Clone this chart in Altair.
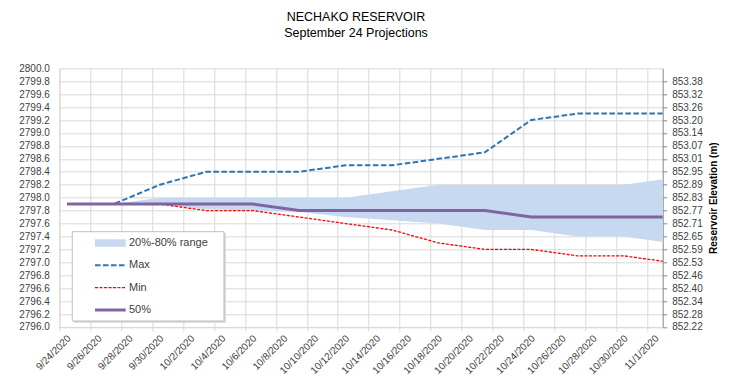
import altair as alt
import pandas as pd

# ---- data ----
dates = ["2020-09-24", "2020-09-27", "2020-09-30", "2020-10-03", "2020-10-06",
         "2020-10-09", "2020-10-12", "2020-10-15", "2020-10-18", "2020-10-21",
         "2020-10-24", "2020-10-27", "2020-10-30", "2020-11-02"]
max_vals = [2797.9, 2797.9, 2798.2, 2798.4, 2798.4, 2798.4, 2798.5,
            2798.5, 2798.6, 2798.7, 2799.2, 2799.3, 2799.3, 2799.3]
min_vals = [2797.9, 2797.9, 2797.9, 2797.8, 2797.8, 2797.7, 2797.6,
            2797.5, 2797.3, 2797.2, 2797.2, 2797.1, 2797.1, 2797.0]
p50_vals = [2797.9, 2797.9, 2797.9, 2797.9, 2797.9, 2797.8, 2797.8,
            2797.8, 2797.8, 2797.8, 2797.7, 2797.7, 2797.7, 2797.7]
p20_vals = [2797.9, 2797.9, 2797.9, 2797.82, 2797.8, 2797.78, 2797.7,
            2797.65, 2797.6, 2797.5, 2797.5, 2797.4, 2797.4, 2797.3]
p80_vals = [2797.9, 2797.9, 2798.0, 2798.0, 2798.0, 2798.0, 2798.0,
            2798.1, 2798.2, 2798.2, 2798.2, 2798.2, 2798.2, 2798.3]

x_labels = ["9/24/2020", "9/26/2020", "9/28/2020", "9/30/2020", "10/2/2020",
            "10/4/2020", "10/6/2020", "10/8/2020", "10/10/2020", "10/12/2020",
            "10/14/2020", "10/16/2020", "10/18/2020", "10/20/2020", "10/22/2020",
            "10/24/2020", "10/26/2020", "10/28/2020", "10/30/2020", "11/1/2020"]
y_left_vals = [round(2796.0 + 0.2 * k, 1) for k in range(21)]
right_labels = ["852.22", "852.28", "852.34", "852.40", "852.46", "852.53",
                "852.59", "852.65", "852.71", "852.77", "852.83", "852.89",
                "852.95", "853.01", "853.07", "853.14", "853.20", "853.26",
                "853.32", "853.38"]
legend_labels = ["20%-80% range", "Max", "Min", "50%"]

df = pd.DataFrame({"date": dates, "max": max_vals, "min": min_vals,
                   "p50": p50_vals, "p20": p20_vals, "p80": p80_vals})
df["day"] = (pd.to_datetime(df["date"]) - pd.Timestamp(dates[0])).dt.days

FONT = "Liberation Sans"
GRID = "#d9d9d9"
TXT = "#404040"

x_tick_vals = [-0.5 + 2 * k for k in range(len(x_labels))]
x_arr = "[" + ",".join(f"'{s}'" for s in x_labels) + "]"
r_arr = "[" + ",".join(f"'{s}'" for s in right_labels) + "]"

x_enc = alt.X(
    "day:Q",
    scale=alt.Scale(domain=[-0.5, 38.5], nice=False, zero=False),
    axis=alt.Axis(values=x_tick_vals,
                  labelExpr=f"{x_arr}[round((datum.value+0.5)/2)]",
                  labelAngle=-45, labelAlign="right", labelBaseline="top",
                  labelOffset=6, labelPadding=2, tickSize=4, tickColor=GRID,
                  domainColor=GRID, grid=True, gridColor=GRID, title=None,
                  labelFont=FONT, labelFontSize=10, labelColor=TXT,
                  labelOverlap=False, labelFlush=False, labelBound=False),
)
y_scale = alt.Scale(domain=[2796, 2800], nice=False, zero=False)
y_axis = alt.Axis(values=y_left_vals, format=".1f", grid=True, gridColor=GRID,
                  ticks=False, tickSize=0, labelPadding=10, domainColor=GRID,
                  title=None, labelFont=FONT, labelFontSize=10, labelColor=TXT)

base = alt.Chart(df)

band = base.mark_area(color="#c6d9f0", opacity=1, clip=True).encode(
    x=x_enc, y=alt.Y("p20:Q", scale=y_scale, axis=y_axis), y2="p80:Q")
max_line = base.mark_line(color="#2e75b6", strokeDash=[5.5, 2.5], strokeWidth=2,
                          clip=True).encode(
    x=x_enc, y=alt.Y("max:Q", scale=y_scale, axis=y_axis))
min_line = base.mark_line(color="#ff0000", strokeDash=[3, 1.5], strokeWidth=1.3,
                          clip=True).encode(
    x=x_enc, y=alt.Y("min:Q", scale=y_scale, axis=y_axis))
med_line = base.mark_line(color="#8064a2", strokeWidth=3, clip=True).encode(
    x=x_enc, y=alt.Y("p50:Q", scale=y_scale, axis=y_axis))

main = alt.layer(band, max_line, min_line, med_line)

right = base.mark_line(opacity=0, clip=True).encode(
    x=x_enc,
    y=alt.Y("p50:Q", scale=y_scale,
            axis=alt.Axis(orient="right", values=y_left_vals[:-1],
                          labelExpr=f"{r_arr}[round((datum.value-2796)/0.2)]",
                          grid=False, ticks=True, tickSize=4, tickColor="#868686",
                          domainColor="#868686", labelPadding=5,
                          labelFont=FONT, labelFontSize=10, labelColor=TXT,
                          title="Reservoir Elevation (m)", titleFont=FONT,
                          titleFontSize=10, titleFontWeight="bold",
                          titleColor="black", titleAngle=270, titlePadding=16)),
)

# ---- legend (drawn by hand) ----
one = pd.DataFrame({"a": [0]})
lg = []
lg.append(alt.Chart(one).mark_rect(fill="#d6d6d6").encode(
    x=alt.value(14.5), x2=alt.value(166.5), y=alt.value(165), y2=alt.value(254.5)))
lg.append(alt.Chart(one).mark_rect(fill="white", stroke="#bfbfbf", strokeWidth=1).encode(
    x=alt.value(13), x2=alt.value(164.7), y=alt.value(163.4), y2=alt.value(252.7)))
lg.append(alt.Chart(one).mark_rect(fill="#c6d9f0").encode(
    x=alt.value(35.7), x2=alt.value(66.4), y=alt.value(171), y2=alt.value(178.4)))
lg.append(alt.Chart(one).mark_rule(color="#2e75b6", strokeDash=[5.5, 2.5], strokeWidth=2).encode(
    x=alt.value(35.7), x2=alt.value(66.4), y=alt.value(197)))
lg.append(alt.Chart(one).mark_rule(color="#ff0000", strokeDash=[3, 1.5], strokeWidth=1.3).encode(
    x=alt.value(35.7), x2=alt.value(66.4), y=alt.value(219.4)))
lg.append(alt.Chart(one).mark_rule(color="#8064a2", strokeWidth=3).encode(
    x=alt.value(35.7), x2=alt.value(66.4), y=alt.value(241.7)))
for lab, yy in zip(legend_labels, [174.6, 197, 219.4, 241.7]):
    lg.append(alt.Chart(one).mark_text(text=lab, align="left", baseline="middle",
                                       font=FONT, fontSize=11, color=TXT).encode(
        x=alt.value(69.7), y=alt.value(yy)))

chart = alt.layer(main, right, *lg).resolve_scale(y="independent").properties(
    width=603.4, height=258.7,
    title=alt.TitleParams(["NECHAKO RESERVOIR", "September 24 Projections"],
                          font=FONT, fontSize=12.5, fontWeight="normal",
                          color="black", anchor="middle", dx=-5, offset=24,
                          lineHeight=16),
    autosize=alt.AutoSizeParams(type="none"),
    padding={"left": 51.3, "top": 60.3, "right": 60, "bottom": 54},
).configure_view(strokeWidth=0)

chart.save("out.html", embed_options={"renderer": "svg", "actions": False})
